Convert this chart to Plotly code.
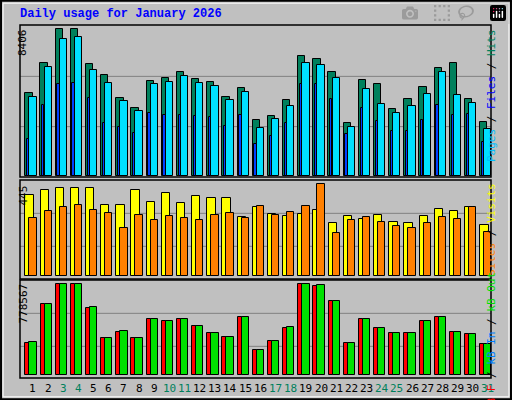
import plotly.graph_objects as go

days = list(range(1, 32))
day_labels = [str(d) for d in days]
weekend_days = [3, 4, 10, 11, 17, 18, 24, 25, 31]

max_hits = 8406
max_visits = 445
max_kb = 778567

hits_frac = [.566,.769,1,1,.762,.688,.532,.464,.647,.667,.708,.661,.640,.538,.600,.382,
             .407,.518,.817,.796,.708,.362,.654,.627,.457,.525,.606,.735,.771,.525,.369]
files_frac = [.538,.742,.932,.946,.722,.633,.511,.443,.627,.640,.681,.633,.612,.518,.572,.328,
              .389,.477,.769,.756,.667,.335,.593,.491,.430,.477,.559,.708,.552,.498,.321]
pages_frac = [.249,.484,.627,.633,.532,.362,.335,.294,.430,.416,.416,.410,.403,.342,.416,.219,
              .274,.362,.627,.627,.525,.287,.464,.376,.308,.308,.382,.484,.416,.423,.233]
hits = [round(f * max_hits) for f in hits_frac]
files = [round(f * max_hits) for f in files_frac]
pages = [round(f * max_hits) for f in pages_frac]

visits_px = [61,46,40,40,40,91,91,46,82,55,85,64,70,70,127,97,118,124,118,106,145,124,133,121,142,145,124,103,109,97,151]
sites_px = [130,109,97,91,106,115,160,121,136,124,130,136,121,115,130,94,121,112,94,28,175,136,127,142,154,160,145,127,133,97,172]
visits = [round((304 - p) / 276 * max_visits) for p in visits_px]
sites = [round((304 - p) / 276 * max_visits) for p in sites_px]

kbf_px = [505,388,327,327,400,490,472,490,433,439,433,454,475,487,427,526,499,460,327,334,379,505,433,460,475,475,439,427,472,478,508]
kbin_px = [502,388,327,327,397,490,469,490,433,439,433,454,475,487,427,526,499,457,327,331,379,505,433,460,475,475,439,427,472,478,508]
kb_f = [round((600 - p) / 273 * max_kb) for p in kbf_px]
kb_in = [round((600 - p) / 273 * max_kb) for p in kbin_px]

BG = "#C0C0C0"
fig = go.Figure()

def bars(vals, off, width, color, yaxis):
    fig.add_trace(go.Bar(x=[d + off for d in days], y=vals, width=width,
                         marker=dict(color=color, line=dict(color="black", width=1)),
                         xaxis="x", yaxis=yaxis, showlegend=False, hoverinfo="skip"))

bars(hits, -0.27, 0.48, "#00805C", "y")
bars(files, 0.0, 0.48, "#00E0FF", "y")
bars(pages, -0.32, 0.15, "#0040FF", "y")
bars(visits, -0.23, 0.55, "#FFFF00", "y2")
bars(sites, 0.0, 0.48, "#FF8000", "y2")
bars(kb_f, -0.36, 0.29, "#FF0000", "y3")
bars(kb_in, 0.0, 0.48, "#00E000", "y3")

xr = [0.143, 31.21]
dom = [20/512, 491/512]
ax = dict(showgrid=False, zeroline=False, showticklabels=False, fixedrange=True)
fig.update_layout(
    width=512, height=400, margin=dict(l=0, r=0, t=0, b=0),
    paper_bgcolor=BG, plot_bgcolor=BG, barmode="overlay", bargap=0,
    xaxis=dict(range=xr, domain=dom, anchor="y3", **ax),
    yaxis=dict(range=[-74, 8651], domain=[0.5575, 0.9375], **ax),
    yaxis2=dict(range=[-13, 466], domain=[0.3025, 0.55], **ax),
    yaxis3=dict(range=[-25667, 812785], domain=[0.055, 0.30], **ax),
)

shapes = []
for yv, yref in [(max_hits*100/147.4, "y"), (max_hits*49.4/147.4, "y"),
                 (max_visits*189/276, "y2"), (max_visits*90/276, "y2"),
                 (max_kb*185/273, "y3"), (max_kb*86/273, "y3")]:
    shapes.append(dict(type="line", xref="paper", yref=yref, x0=dom[0], x1=dom[1], y0=yv, y1=yv,
                       line=dict(color="#808080", width=1), layer="below"))
for y0, y1 in [(0.5575, 0.9375), (0.3025, 0.55), (0.055, 0.30)]:
    shapes.append(dict(type="rect", xref="paper", yref="paper", x0=dom[0], x1=dom[1], y0=y0, y1=y1,
                       line=dict(color="black", width=1.5)))
shapes.append(dict(type="rect", xref="paper", yref="paper", x0=0.002, x1=0.998, y0=0.002, y1=0.998,
                   line=dict(color="black", width=2)))
shapes.append(dict(type="rect", xref="paper", yref="paper", x0=0.006, x1=0.994, y0=0.008, y1=0.992,
                   line=dict(color="white", width=1)))
fig.update_layout(shapes=shapes)

mono = "DejaVu Sans Mono"
ann = [dict(text="<b>Daily usage for January 2026</b>", xref="paper", yref="paper",
            x=18/512, y=1-14/400, xanchor="left", yanchor="middle", showarrow=False,
            font=dict(family="Liberation Mono", size=12, color="#0000FF"))]
for d, lab in zip(days, day_labels):
    ann.append(dict(text=lab, x=d, xref="x", yref="paper", y=1-388/400, yanchor="middle",
                    showarrow=False,
                    font=dict(family=mono, size=11, color="#00805C" if d in weekend_days else "black")))
for txt, ytop in [(str(max_hits), 27), (str(max_visits), 184), (str(max_kb), 282)]:
    ann.append(dict(text=txt, xref="paper", yref="paper", x=14/512, y=1-ytop/400,
                    yanchor="top", textangle=-90, showarrow=False,
                    font=dict(family=mono, size=11, color="black")))
right = [
    ('<span style="color:#00C0FF">Pages</span> / <span style="color:#0000FF">Files</span> / <span style="color:#00805C">Hits</span>', 27),
    ('<span style="color:#FF8000">Sites</span> / <span style="color:#FFFF00">Visits</span>', 181),
    ('<span style="color:#FF0000">kB F</span> / <span style="color:#0080FF">kB In</span> / <span style="color:#00E000">kB Out</span>', 270),
]
for txt, ytop in right:
    ann.append(dict(text=txt, xref="paper", yref="paper", x=500/512, y=1-ytop/400,
                    yanchor="top", textangle=-90, showarrow=False,
                    font=dict(family=mono, size=11, color="black")))
fig.update_layout(annotations=ann)

fig.write_html("out.html", post_script="document.body.style.margin='0';document.body.style.overflow='hidden';")
